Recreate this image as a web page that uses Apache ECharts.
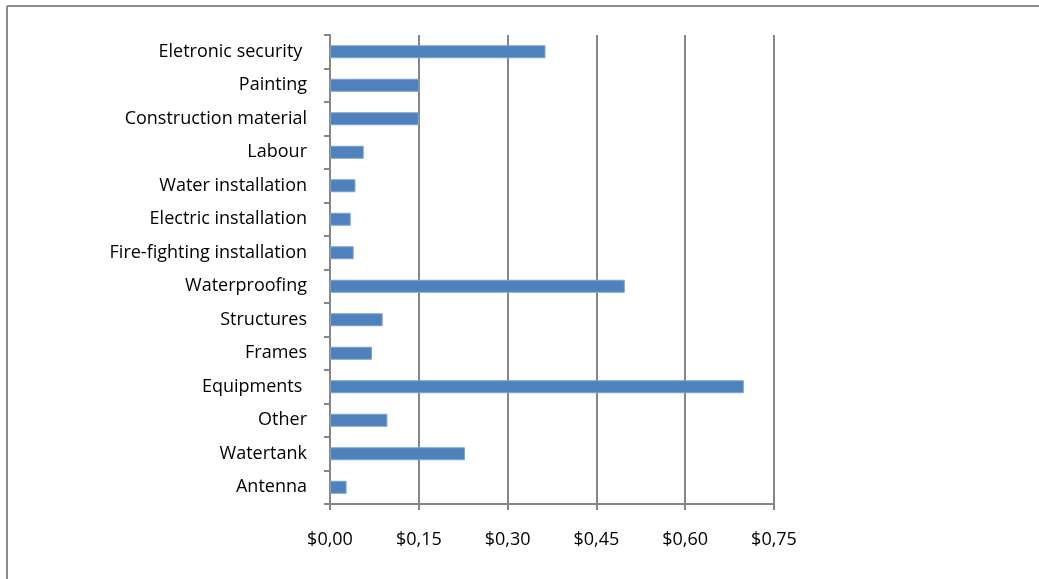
<!DOCTYPE html>
<html>
<head>
<meta charset="utf-8">
<script src="https://cdn.jsdelivr.net/npm/echarts@6/dist/echarts.min.js"></script>
<style>
html,body{margin:0;padding:0;background:#fff;}
#c{width:1039px;height:579px;}
</style>
</head>
<body>
<div id="c"></div>
<script>
// Categories listed from bottom to top
const categories = ["Antenna","Watertank","Other","Equipments ","Frames","Structures","Waterproofing","Fire-fighting installation","Electric installation","Water installation","Labour","Construction material","Painting","Eletronic security "];
const values = [0.028,0.228,0.097,0.699,0.071,0.089,0.498,0.040,0.035,0.043,0.057,0.150,0.151,0.364];
const xTicks = [0,0.15,0.30,0.45,0.60,0.75];

const chart = echarts.init(document.getElementById('c'));
const fontFam = '"Open Sans", "Noto Sans", sans-serif';
chart.setOption({
  animation:false,
  backgroundColor:'#fff',
  graphic:[
    {type:'line',shape:{x1:7,y1:6,x2:7,y2:579},style:{stroke:'#8c8c8c',lineWidth:2}},
    {type:'line',shape:{x1:7,y1:6,x2:1039,y2:6},style:{stroke:'#8c8c8c',lineWidth:2}}
  ],
  grid:{left:330,right:265,top:35,bottom:75,containLabel:false},
  xAxis:{
    type:'value',min:0,max:0.75,interval:0.15,
    axisLine:{show:true,lineStyle:{color:'#868686',width:2}},
    axisTick:{show:true,length:6,lineStyle:{color:'#868686',width:2}},
    splitLine:{show:true,lineStyle:{color:'#868686',width:2}},
    axisLabel:{margin:27,color:'#000',fontSize:18,fontFamily:fontFam,
      formatter:function(v){return '$'+v.toFixed(2).replace('.',',');}}
  },
  yAxis:{
    type:'category',data:categories,
    axisLine:{show:true,lineStyle:{color:'#868686',width:2}},
    axisTick:{show:true,length:6,lineStyle:{color:'#868686',width:2}},
    axisLabel:{margin:23,color:'#000',fontSize:18,fontFamily:fontFam}
  },
  series:[{
    type:'bar',data:values,barWidth:13,
    itemStyle:{color:'#4F81BD',borderColor:'#7FA3CF',borderWidth:1}
  }]
});
</script>
</body>
</html>
